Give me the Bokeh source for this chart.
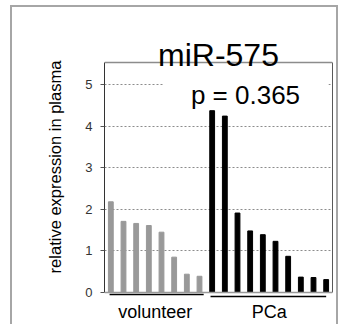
from bokeh.plotting import figure
from bokeh.models import (FactorRange, Range1d, FixedTicker, Span, Label, LinearAxis,
                          BoxAnnotation, ColumnDataSource)
from bokeh.core.properties import value
from bokeh.embed import file_html
from bokeh.resources import INLINE

title_text = "miR-575"
y_label = "relative expression in plasma"
p_text = "p = 0.365"
groups = ["volunteer", "PCa"]
volunteer_vals = [2.18, 1.71, 1.66, 1.61, 1.45, 0.85, 0.44, 0.39]
pca_vals = [4.37, 4.24, 1.91, 1.48, 1.39, 1.23, 0.87, 0.37, 0.36, 0.31]
y_ticks = [0, 1, 2, 3, 4, 5]
colors = {"volunteer": "#999999", "PCa": "#000000"}

FONT = "Liberation Sans"

n_v = len(volunteer_vals)
n_p = len(pca_vals)
n_all = n_v + n_p
factors = [f"v{i+1}" for i in range(n_v)] + [f"p{i+1}" for i in range(n_p)]
values = volunteer_vals + pca_vals
fill = [colors["volunteer"]] * n_v + [colors["PCa"]] * n_p

src = ColumnDataSource(dict(x=factors, top=values, color=fill))

y_top = 5.53      # top edge of the plot box
p = figure(width=328, height=319, output_backend="svg", toolbar_location=None,
           x_range=FactorRange(*factors, range_padding=0),
           y_range=Range1d(-0.817, 6.85),
           min_border_left=92, min_border_right=8, min_border_top=0, min_border_bottom=0)
p.styles = {"margin-left": "10px", "margin-top": "5px",
            "border-left": "2px solid #a6a6a6", "border-top": "2px solid #a6a6a6",
            "border-right": "2px solid #a6a6a6"}

p.outline_line_color = None
p.background_fill_color = "white"
p.border_fill_color = "white"

# grid
p.xgrid.grid_line_color = None
p.ygrid.ticker = FixedTicker(ticks=y_ticks[1:])
p.ygrid.grid_line_color = "#8c8c8c"
p.ygrid.grid_line_dash = "2 2"
p.ygrid.grid_line_width = 1

# white band that interrupts the top gridline behind the p-value
p.add_layout(BoxAnnotation(left=4.66, right=17.68, bottom=4.8, top=5.2, fill_color="white",
                           fill_alpha=1, line_color=None, level="underlay"))

p.vbar(x="x", top="top", width=0.38, color="color", source=src)

# y axis
ya = p.yaxis[0]
ya.ticker = FixedTicker(ticks=y_ticks)
ya.bounds = (0, y_top)
ya.axis_label = y_label
ya.axis_label_text_font = FONT
ya.axis_label_text_font_size = "16.5px"
ya.axis_label_text_font_style = "normal"
ya.axis_label_text_color = "#000000"
ya.axis_label_standoff = 18
ya.major_label_text_font = FONT
ya.major_label_text_font_size = "13px"
ya.major_label_text_color = "#333333"
ya.major_label_standoff = 8
ya.axis_line_color = "#333333"
ya.major_tick_line_color = "#555555"
ya.major_tick_out = 4
ya.major_tick_in = 0
ya.minor_tick_line_color = None

p.xaxis.visible = False

# right and top borders of the plot box
ra = LinearAxis(ticker=FixedTicker(ticks=[]), bounds=(0, y_top),
                axis_line_color="#595959", major_tick_line_color=None, minor_tick_line_color=None)
p.add_layout(ra, "right")
p.add_layout(Span(location=y_top, dimension="width", line_color="#8c8c8c", line_width=1.5))

# baseline
p.add_layout(Span(location=0, dimension="width", line_color="#999999", line_width=1.5))

# group underlines
p.segment(x0=[0.4, n_v + 0.37], x1=[n_v - 0.17, n_all - 0.5], y0=[-0.05, -0.095], y1=[-0.05, -0.095],
          line_color="black", line_width=1.5)

# group labels
p.text(x=[n_v / 2, n_v + n_p / 2], y=[-0.48, -0.48], text=groups, text_font=value(FONT),
       text_font_size="18px", text_align="center", text_baseline="middle", text_color="#000000")

# title
p.add_layout(Label(x=n_all / 2, y=5.70, text=title_text, text_font=FONT, text_font_size="32px",
                   text_align="center", text_baseline="alphabetic", text_color="#000000"))

# p-value label
p.add_layout(Label(x=11.13, y=4.74, text=p_text, text_font=FONT, text_font_size="26px",
                   text_align="center", text_baseline="alphabetic", text_color="#000000"))

open("out.html", "w").write(file_html(p, INLINE))
